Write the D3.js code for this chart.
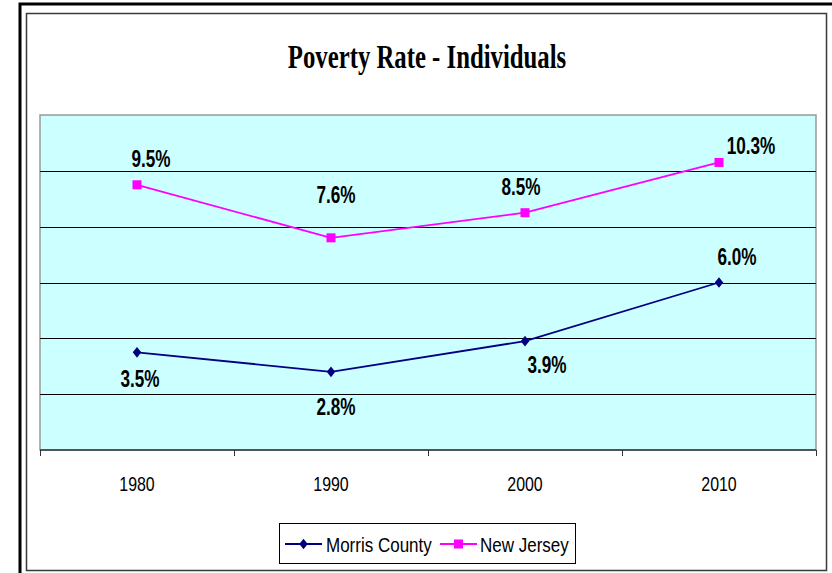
<!DOCTYPE html>
<html>
<head>
<meta charset="utf-8">
<script src="https://cdn.jsdelivr.net/npm/d3@7"></script>
<style>
  html, body { margin: 0; padding: 0; background: #fff; }
  svg { display: block; }
</style>
</head>
<body>
<svg id="chart" width="832" height="573"></svg>
<script>
// Chart data
const years = ["1980", "1990", "2000", "2010"];
const morrisCounty = [3.5, 2.8, 3.9, 6.0];
const newJersey = [9.5, 7.6, 8.5, 10.3];
const yTicks = [0, 2, 4, 6, 8, 10, 12];
const seriesNames = ["Morris County", "New Jersey"];

// Label nudges (px) so value labels sit clear of the lines
const morrisLabelOffset = [[3, 26], [5, 35], [22, 23], [18, -26]];
const jerseyLabelOffset = [[14, -26], [5, -43], [-4, -26], [32, -17]];

const svg = d3.select("#chart");
const NAVY = "#000080", MAGENTA = "#FF00FF";

function squeezedText(g, x, y, str, opts) {
  return g.append("text")
    .attr("transform", `translate(${x},${y}) scale(${opts.sx},1)`)
    .attr("text-anchor", opts.anchor || "middle")
    .attr("font-family", opts.family || "'Liberation Sans', Arial, sans-serif")
    .attr("font-size", opts.size)
    .attr("font-weight", opts.weight || "normal")
    .attr("fill", opts.fill || "#000")
    .text(str);
}

// Outer frame (heavy rule along top and left)
svg.append("rect").attr("x", 20).attr("y", 4).attr("width", 830).attr("height", 590)
  .attr("fill", "none").attr("stroke", "#000").attr("stroke-width", 3);

// Chart border
svg.append("rect").attr("x", 26.5).attr("y", 13.5).attr("width", 800).attr("height", 557)
  .attr("fill", "#fff").attr("stroke", "#3a3a3a").attr("stroke-width", 1.5);

// Title
squeezedText(svg, 427, 68, "Poverty Rate - Individuals", {
  family: "'Liberation Serif', 'Times New Roman', serif", size: 33, weight: "bold", sx: 0.75
});

// Plot area
const plot = { left: 40, right: 816, top: 115, bottom: 450 };
const x = d3.scaleBand().domain(years).range([plot.left, plot.right]);
const y = d3.scaleLinear().domain([0, 12]).range([plot.bottom, plot.top]);

svg.append("rect").attr("x", plot.left).attr("y", plot.top)
  .attr("width", plot.right - plot.left).attr("height", plot.bottom - plot.top)
  .attr("fill", "#CCFFFF").attr("stroke", "#999").attr("stroke-width", 1.5);

// Gridlines
svg.append("g").selectAll("line").data(yTicks.filter(v => v > 0 && v < 12)).join("line")
  .attr("x1", plot.left).attr("x2", plot.right)
  .attr("y1", d => Math.round(y(d)) + 0.5).attr("y2", d => Math.round(y(d)) + 0.5)
  .attr("stroke", "#000").attr("stroke-width", 1);

// X axis with ticks on band boundaries
const xAxis = svg.append("g").attr("transform", `translate(0,${plot.bottom})`);
xAxis.append("line").attr("x1", plot.left).attr("x2", plot.right)
  .attr("stroke", "#333").attr("stroke-width", 1.5);
const boundaries = years.map(d => x(d)).concat([x(years[years.length - 1]) + x.bandwidth()]);
xAxis.selectAll("line.tick").data(boundaries).join("line").attr("class", "tick")
  .attr("x1", d => Math.round(d) + 0.5).attr("x2", d => Math.round(d) + 0.5)
  .attr("y1", 0).attr("y2", 6).attr("stroke", "#333").attr("stroke-width", 1);
years.forEach(yr => {
  squeezedText(svg, x(yr) + x.bandwidth() / 2, 491, yr, { size: 21, sx: 0.76 });
});

// Series
const cx = d => x(d) + x.bandwidth() / 2;
const line = d3.line().x(d => cx(d[0])).y(d => y(d[1]));
const diamond = d3.symbol().type(d3.symbolSquare).size(40);

function drawSeries(values, color, markerFn, offsets) {
  const pts = years.map((yr, i) => [yr, values[i]]);
  svg.append("path").datum(pts).attr("d", line)
    .attr("fill", "none").attr("stroke", color).attr("stroke-width", 1.8);
  const g = svg.append("g");
  pts.forEach(p => markerFn(g, cx(p[0]), y(p[1])));
  pts.forEach((p, i) => {
    squeezedText(svg, cx(p[0]) + offsets[i][0], y(p[1]) + offsets[i][1] + 8.5,
      p[1].toFixed(1) + "%", { size: 23.5, weight: "bold", sx: 0.73 });
  });
}

const drawDiamond = (g, px, py) => g.append("path").attr("d", diamond)
  .attr("transform", `translate(${px},${py}) scale(0.95,1.2) rotate(45)`).attr("fill", NAVY);
const drawSquare = (g, px, py) => g.append("rect")
  .attr("x", px - 4.5).attr("y", py - 4.5).attr("width", 9).attr("height", 9).attr("fill", MAGENTA);

drawSeries(morrisCounty, NAVY, drawDiamond, morrisLabelOffset);
drawSeries(newJersey, MAGENTA, drawSquare, jerseyLabelOffset);

// Legend
const legend = svg.append("g");
legend.append("rect").attr("x", 279.5).attr("y", 523.5).attr("width", 296).attr("height", 40)
  .attr("fill", "#fff").attr("stroke", "#000").attr("stroke-width", 1);
const legendItems = [
  { name: seriesNames[0], color: NAVY, x0: 285, x1: 322, text: 326, marker: drawDiamond },
  { name: seriesNames[1], color: MAGENTA, x0: 440, x1: 477, text: 480, marker: drawSquare }
];
legendItems.forEach(it => {
  legend.append("line").attr("x1", it.x0).attr("x2", it.x1).attr("y1", 544).attr("y2", 544)
    .attr("stroke", it.color).attr("stroke-width", 1.8);
  it.marker(legend, (it.x0 + it.x1) / 2, 544);
  squeezedText(legend, it.text, 552, it.name, { size: 21, anchor: "start", sx: 0.81 });
});
</script>
</body>
</html>
